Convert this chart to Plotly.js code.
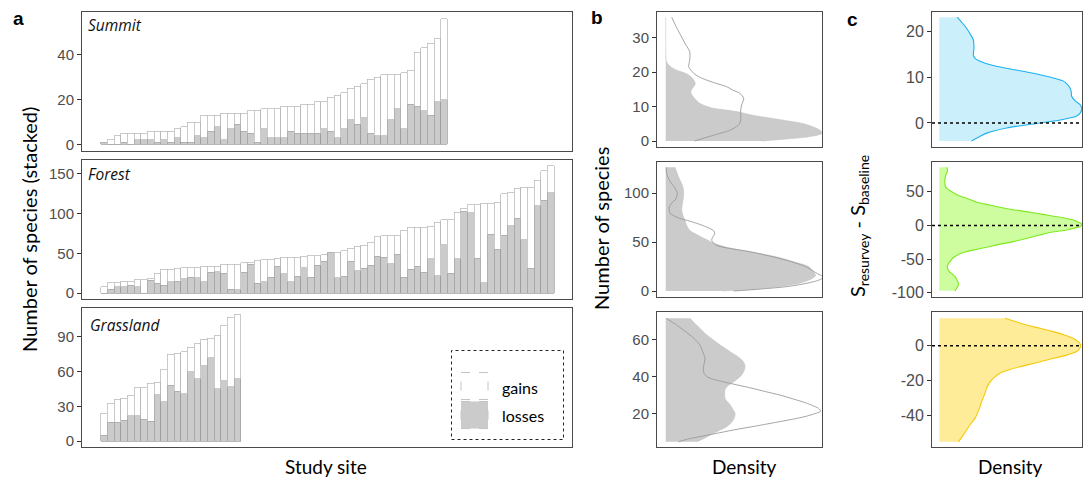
<!DOCTYPE html>
<html><head><meta charset="utf-8">
<script src="https://cdn.plot.ly/plotly-3.0.1.min.js"></script>
<style>html,body{margin:0;padding:0;background:#fff;} #chart{width:1083px;height:482px;}</style>
</head><body><div id="chart"></div>
<script>
// ---------- Panel a: stacked bars (losses + gains) ----------
const summitLosses = [1,0,0,1,0,2,2,2,1,2,1,3,1,1,4,3,6,8,2,7,9,6,5,1,7,3,3,3,6,5,5,5,5,7,6,3,7,11,9,12,5,4,4,11,16,7,18,17,15,13,19,20];
const summitGains  = [0,2,4,4,5,3,3,4,5,4,5,4,7,9,6,10,7,5,12,7,5,8,10,14,9,13,13,14,11,12,13,13,14,12,15,19,16,14,17,15,24,26,27,20,15,25,15,24,28,32,28,36];
const forestLosses = [0,5,8,8,10,8,0,16,12,10,14,15,18,20,19,14,26,27,25,5,4,26,36,12,14,20,34,24,14,21,32,20,35,40,51,19,21,40,28,31,35,46,45,37,49,20,30,34,26,43,22,61,25,43,103,101,44,13,74,55,73,85,94,67,31,110,117,126];
const forestGains  = [8,8,5,7,5,9,17,2,13,20,16,16,14,12,13,20,8,7,11,31,32,12,3,29,28,22,10,21,31,24,14,27,12,8,0,32,32,16,31,29,28,25,27,35,23,59,53,49,57,41,67,31,67,59,4,10,67,100,39,59,52,41,38,66,102,32,37,34];
const grassLosses  = [5,16,16,18,22,22,19,17,40,34,48,43,41,60,54,65,72,45,52,47,54];
const grassGains   = [19,16,20,19,17,24,27,33,11,28,27,33,36,21,30,23,17,46,48,60,55];

const summitTicks = [0,20,40];
const forestTicks = [0,50,100,150];
const grassTicks  = [0,30,60,90];

// ---------- Panel b: densities of species numbers (value v, density d) ----------
const bSumLossV = [0,0.6,1,1.6,2.2,3,3.7,4.4,5.1,5.9,6.7,7.5,8.5,9,9.5,10.2,11,12,12.7,13.5,14.3,15,15.8,16.5,17.2,18.2,19.2,20,20.6,21.4,22.1,23,23.5,25,28,32,36];
const bSumLossD = [96,121,137,150,156,155,151,145,137,121,104,87,72,60,48,40,34,30,28,26,25,26,28,29.5,29,27,23,17,11,6,3,1,0.5,0.2,0,0,0];
const bSumGainV = [0,1,2.2,3,4.2,5.1,6.1,7.5,9,10.5,12.4,13.9,14.8,15.8,16.8,17.7,18.7,19.7,21.6,23.5,26,28,31.3,33.5,36];
const bSumGainD = [29,40,54,63,71,74,75,75,75,76,78,74,67,61,50,41,33,28,23,24,24,20,14,10,6];

const bForLossV = [0,3,8,13,16,18,22,25,30,33,36,42,45,49,52,56,62,67,73,78,83,91,100,107,114,119,126.4];
const bForLossD = [57,100,134,147,150,149,146,143,128,118,106,74,60,48,42,34,24,21,19,17,16,17,18,17,14,12,9.3];
const bForGainV = [0,2,5,9.5,12,14.6,16,20,25,33,40,47,52,55,59,61.5,64,67,69.2,72,74.3,77,79.4,83,86.2,90,93,96.5,99.9,103,106.7,111,115.2,120,126.4];
const bForGainD = [68,95,125,148,155,158,155,148,140,115,85,50,46,47,49,48,44,37,31,22,14,8,4.3,3.5,3.7,6,9.3,11,11.7,10.5,8.3,5,2.7,1,0.5];

const bGraLossV = [5.1,7,9.6,11.5,13.2,15,16.9,18.6,20.4,22.7,25.1,27,28.5,31,33,35,37.2,39,41,43.3,45.5,47.3,49.1,51.3,53.5,56.5,59.8,63,66,68.7,71.4];
const bGraLossD = [31,39,47.7,55,61,65,67.7,69,69.3,67,64.3,61,59.3,59,59.3,62,67.7,72,76,78.5,79.3,78.5,76,71,64.3,56,47.7,40,34.3,29,24.3];
const bGraGainV = [5.1,6.5,7.8,9.5,11.4,13.5,15.9,17.5,19,20.5,21.5,23,24.5,26,28,30.2,32,34,36.5,37.5,38.8,40.1,42.3,44.6,47.3,49.9,53.5,57,59.7,62.4,65,67.8,71.4];
const bGraGainD = [12.7,22,34,50,67.7,90,114,130,142,151,155,153,147,140,128,114,100,85,64,56,47,41,38,37.7,38.5,39.3,37,34.3,30,24.3,18,11,0.5];

const bSumTicks = [0,10,20,30];
const bForTicks = [0,50,100];
const bGraTicks = [20,40,60];

// ---------- Panel c: densities of S_resurvey - S_baseline ----------
const cSumV = [-3.9,-3,-2.2,-1.1,0,0.7,1.5,2.2,2.9,3.5,4,4.8,5.8,6.7,7.6,8.4,9.1,9.8,10.5,11.2,11.9,12.6,13.4,14.1,14.8,15.5,16.3,17.2,18.1,19.3,20.6,22,23];
const cSumD = [32.3,40,47.3,67.3,100.7,122,137.3,141,142.3,142,140.7,136,132.3,132,130.7,128,124,114,100.7,85,67.3,52,40.7,35.5,34,34.3,34.7,34.5,34,31,27.3,22,18];
const cForV = [-97,-93.1,-89,-85.7,-80,-75.8,-72,-68.3,-65,-61.9,-57,-53.5,-50,-46.1,-42,-38.7,-35.5,-32.3,-28,-23.9,-19,-14,-10,-6.6,-4,-1.7,0,2.3,5,8.2,10.5,13.1,16.5,20.6,25,30.4,35,40.4,45,50.3,55,60.1,65,70,75,79.9,83,86.3];
const cForD = [15.7,17.3,19,19,17.5,15.7,13,10,8.7,8,9,10.7,12.5,15.7,20.5,27.3,37,47.3,60,74,88,100.7,112,127.3,135,140.7,142,142.3,139,134,127,117.3,104,87.3,68,50.7,37,27.3,18.5,12.3,7.5,5.7,5.5,5.7,6.5,8,8.2,7.3];
const cGraV = [-55.4,-52,-48.6,-45,-41.9,-37,-32.3,-28.5,-24.6,-22,-19.8,-17.8,-15.9,-14,-12.1,-9.7,-7.3,-5.3,-3.4,-1.5,0.4,2.3,4.2,6.2,8.1,10,11.9,13.9,15.8];
const cGraD = [19,23.5,27.3,31.5,35.7,39.5,42.3,45,47.3,49.5,52.3,56,60.7,69,80.7,98,114,128,137.3,140.5,141.3,139,134,125,114,101,87.3,76,65.7];

const cSumTicks = [0,10,20];
const cForTicks = [-100,-50,0,50];
const cGraTicks = [-40,-20,0];

// ---------- helpers ----------
const W = 1083, H = 482;
const PX = x => x / W;
const PY = y => 1 - y / H;
const lbl = arr => arr.map(v => String(v));
const idx = arr => arr.map((_, i) => i + 1);

const GRAY = '#cbcbcb';
const LINEC = '#4a4a4a';
const TICKFONT = {family: 'Liberation Sans, Arial, sans-serif', size: 15, color: '#4d4d4d'};
const TITLEFONT = 'Lato, Open Sans, sans-serif';

function xax(x0, x1, range, anchor) {
  return {domain: [PX(x0), PX(x1)], range: range, anchor: anchor, showline: true, mirror: true,
    linecolor: LINEC, linewidth: 1, showgrid: false, zeroline: false, ticks: '', showticklabels: false, fixedrange: true};
}
function yax(y0, y1, range, anchor, ticks, fsize) {
  return {domain: [PY(y1), PY(y0)], range: range, anchor: anchor, showline: true, mirror: true,
    linecolor: LINEC, linewidth: 1, showgrid: false, zeroline: false, ticks: 'outside', ticklen: 4,
    tickcolor: '#333', tickwidth: 1, tickvals: ticks, ticktext: lbl(ticks),
    tickfont: Object.assign({}, TICKFONT, {size: fsize || 15}), fixedrange: true};
}

const traces = [];
function bars(losses, gains, k) {
  const xs = idx(losses);
  const xa = k === 1 ? 'x' : 'x' + k, ya = k === 1 ? 'y' : 'y' + k;
  traces.push({type: 'bar', x: xs, y: losses, xaxis: xa, yaxis: ya, width: 1,
    marker: {color: GRAY, line: {color: '#9a9a9a', width: 0.7}}, showlegend: false, hoverinfo: 'skip'});
  traces.push({type: 'bar', x: xs, y: gains, xaxis: xa, yaxis: ya, width: 1,
    marker: {color: '#ffffff', line: {color: '#b4b4b4', width: 0.7}}, showlegend: false, hoverinfo: 'skip'});
}
bars(summitLosses, summitGains, 1);
bars(forestLosses, forestGains, 2);
bars(grassLosses, grassGains, 3);

function dens(v, d, k, fill, line, lw) {
  traces.push({type: 'scatter', mode: 'lines', x: d, y: v, xaxis: 'x' + k, yaxis: 'y' + k,
    line: {color: line, width: lw, shape: 'spline', smoothing: 0.8},
    fill: fill ? 'tozerox' : 'none', fillcolor: fill || undefined, showlegend: false, hoverinfo: 'skip'});
}
dens(bSumLossV, bSumLossD, 4, GRAY, '#bdbdbd', 0.5);
dens(bSumGainV, bSumGainD, 4, null, '#9a9a9a', 0.9);
dens(bForLossV, bForLossD, 5, GRAY, '#bdbdbd', 0.5);
dens(bForGainV, bForGainD, 5, null, '#9a9a9a', 0.9);
dens(bGraLossV, bGraLossD, 6, GRAY, '#bdbdbd', 0.5);
dens(bGraGainV, bGraGainD, 6, null, '#9a9a9a', 0.9);

dens(cSumV, cSumD, 7, 'rgb(204,239,252)', '#1cb1ee', 1.1);
dens(cForV, cForD, 8, 'rgb(206,253,160)', 'rgb(126,232,30)', 1.1);
dens(cGraV, cGraD, 9, 'rgb(255,236,153)', 'rgb(245,200,10)', 1.1);

const aRange = [-2.3, 71.2];
const bRange = [-8.7, 156.3];
const cRange = [-7.3, 142.7];

function ann(text, x, y, opts) {
  return Object.assign({text: text, x: PX(x), y: PY(y), xref: 'paper', yref: 'paper', showarrow: false,
    xanchor: 'center', yanchor: 'middle'}, opts);
}
const F = (size, extra) => Object.assign({family: TITLEFONT, size: size, color: '#000'}, extra || {});
const ITF = {family: 'Open Sans, Lato, sans-serif', size: 15.5, color: '#111', style: 'italic', weight: 400};

const layout = {
  width: W, height: H, margin: {l: 0, r: 0, t: 0, b: 0}, paper_bgcolor: '#fff', plot_bgcolor: '#fff',
  barmode: 'stack', bargap: 0, showlegend: false, hovermode: false,
  xaxis:  xax(82, 572, aRange, 'y'),
  yaxis:  yax(12, 150.5, [-2.67, 58.9], 'x', summitTicks),
  xaxis2: xax(82, 572, aRange, 'y2'),
  yaxis2: yax(160, 299, [-7.56, 167.5], 'x2', forestTicks),
  xaxis3: xax(82, 572, aRange, 'y3'),
  yaxis3: yax(307.5, 447, [-5.19, 115.4], 'x3', grassTicks),
  xaxis4: xax(657, 822, bRange, 'y4'),
  yaxis4: yax(12, 147, [-1.74, 37.5], 'x4', bSumTicks),
  xaxis5: xax(657, 822, bRange, 'y5'),
  yaxis5: yax(161.5, 297, [-6.13, 132.4], 'x5', bForTicks),
  xaxis6: xax(657, 822, bRange, 'y6'),
  yaxis6: yax(312, 447, [2.26, 74.8], 'x6', bGraTicks),
  xaxis7: xax(932, 1082, cRange, 'y7'),
  yaxis7: yax(11.5, 147, [-5.22, 24.24], 'x7', cSumTicks, 16),
  xaxis8: xax(932, 1082, cRange, 'y8'),
  yaxis8: yax(161.5, 297, [-106.1, 95.0], 'x8', cForTicks, 16),
  xaxis9: xax(932, 1082, cRange, 'y9'),
  yaxis9: yax(311.5, 447, [-58.4, 19.7], 'x9', cGraTicks, 16),
  shapes: [
    {type: 'line', xref: 'x7 domain', yref: 'y7', x0: 0, x1: 1, y0: 0, y1: 0, line: {color: '#000', width: 1.6, dash: 'dot'}},
    {type: 'line', xref: 'x8 domain', yref: 'y8', x0: 0, x1: 1, y0: 0, y1: 0, line: {color: '#000', width: 1.6, dash: 'dot'}},
    {type: 'line', xref: 'x9 domain', yref: 'y9', x0: 0, x1: 1, y0: 0, y1: 0, line: {color: '#000', width: 1.6, dash: 'dot'}},
    // legend box
    {type: 'rect', xref: 'paper', yref: 'paper', x0: PX(451.5), x1: PX(563.5), y0: PY(439.5), y1: PY(350.5),
      line: {color: '#222', width: 1, dash: 'dot'}, fillcolor: 'rgba(255,255,255,0)'},
    {type: 'rect', xref: 'paper', yref: 'paper', x0: PX(461), x1: PX(488), y0: PY(399.5), y1: PY(372.5),
      line: {color: '#c4c4c4', width: 1, dash: 'dash'}, fillcolor: '#ffffff'},
    {type: 'rect', xref: 'paper', yref: 'paper', x0: PX(461), x1: PX(488), y0: PY(428.5), y1: PY(401.5),
      line: {color: '#c4c4c4', width: 1, dash: 'dash'}, fillcolor: GRAY}
  ],
  annotations: [
    ann('<b>a</b>', 18, 19, {font: {family: 'Liberation Sans, Arial', size: 19, color: '#000'}}),
    ann('<b>b</b>', 597, 18, {font: {family: 'Liberation Sans, Arial', size: 19, color: '#000'}}),
    ann('<b>c</b>', 852, 20, {font: {family: 'Liberation Sans, Arial', size: 19, color: '#000'}}),
    ann('Summit', 86, 25, {xanchor: 'left', font: ITF}),
    ann('Forest', 86, 174, {xanchor: 'left', font: ITF}),
    ann('Grassland', 88, 325, {xanchor: 'left', font: ITF}),
    ann('Number of species (stacked)', 29, 230, {textangle: -90, font: F(20)}),
    ann('Study site', 326, 466, {font: F(19)}),
    ann('Number of species', 601, 229, {textangle: -90, font: F(20)}),
    ann('Density', 744, 466, {font: F(19)}),
    ann('S<sub>resurvey</sub> - S<sub>baseline</sub>', 858, 226, {textangle: -90, font: F(20)}),
    ann('Density', 1010, 466, {font: F(19)}),
    ann('gains', 500, 387, {xanchor: 'left', font: F(16)}),
    ann('losses', 500, 415, {xanchor: 'left', font: F(16)})
  ]
};

Plotly.newPlot('chart', traces, layout, {staticPlot: true, displayModeBar: false});
</script></body></html>
